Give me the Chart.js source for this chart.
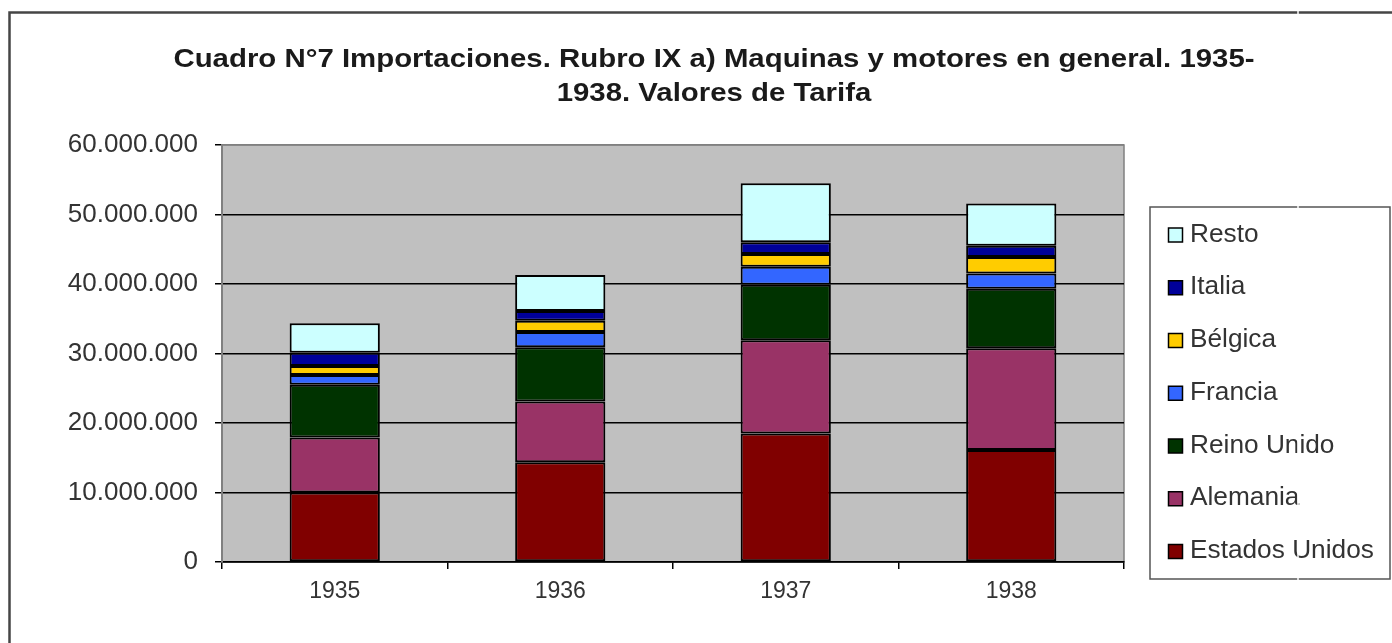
<!DOCTYPE html>
<html>
<head>
<meta charset="utf-8">
<script src="https://cdn.jsdelivr.net/npm/chart.js@4/dist/chart.umd.min.js"></script>
<style>
  html, body { margin: 0; padding: 0; background: #fff; }
  #wrap { width: 1392px; height: 643px; }
</style>
</head>
<body>
<div id="wrap"><canvas id="chart" width="1392" height="643"></canvas></div>
<script>
const years = ['1935', '1936', '1937', '1938'];
const estadosUnidos = [10000000, 14350000, 18500000, 16100000];
const alemania     = [7900000, 8750000, 13400000, 14650000];
const reinoUnido   = [7600000, 7800000, 8000000, 8550000];
const francia      = [1400000, 2200000, 2600000, 2200000];
const belgica      = [1300000, 1600000, 1800000, 2400000];
const italia       = [1900000, 1400000, 1700000, 1600000];
const resto        = [4250000, 5200000, 8500000, 6100000];
const titleLines = ['Cuadro N°7 Importaciones. Rubro IX a) Maquinas y motores en general. 1935-',
                    '1938. Valores de Tarifa'];

const FONT = '"Liberation Sans", Arial, sans-serif';

function fmt(v) {
  return String(Math.round(v)).replace(/\B(?=(\d{3})+(?!\d))/g, '.');
}

function ds(label, data, color) {
  return {
    label: label,
    data: data,
    backgroundColor: color,
    borderColor: '#000',
    borderWidth: 2,
    borderSkipped: false,
    barPercentage: 0.4,
    categoryPercentage: 1
  };
}

const data = {
  labels: years,
  datasets: [
    ds('Estados Unidos', estadosUnidos, '#800000'),
    ds('Alemania', alemania, '#993366'),
    ds('Reino Unido', reinoUnido, '#003300'),
    ds('Francia', francia, '#3366FF'),
    ds('Bélgica', belgica, '#FFCC00'),
    ds('Italia', italia, '#000099'),
    ds('Resto', resto, '#CCFFFF')
  ]
};

// plot background, outer frame, title and legend box
const decor = {
  id: 'decor',
  beforeDraw(chart) {
    const ctx = chart.ctx;
    const a = chart.chartArea;
    ctx.save();
    ctx.fillStyle = '#fff';
    ctx.fillRect(0, 0, chart.width, chart.height);
    // outer frame
    ctx.strokeStyle = '#454545';
    ctx.lineWidth = 2.5;
    ctx.beginPath();
    ctx.moveTo(9.5, chart.height + 2);
    ctx.lineTo(9.5, 12.5);
    ctx.lineTo(chart.width + 2, 12.5);
    ctx.stroke();
    // plot area
    ctx.fillStyle = '#c0c0c0';
    ctx.fillRect(a.left, a.top, a.right - a.left, a.bottom - a.top);
    ctx.strokeStyle = '#808080';
    ctx.lineWidth = 1.5;
    ctx.strokeRect(a.left, a.top, a.right - a.left, a.bottom - a.top);
    // title (the original is slightly stretched sideways)
    ctx.fillStyle = '#1a1a1a';
    ctx.font = 'bold 26px ' + FONT;
    ctx.textAlign = 'center';
    ctx.textBaseline = 'alphabetic';
    const sx = 1.13;
    ctx.scale(sx, 1);
    ctx.fillText(titleLines[0], 714 / sx, 66.5);
    ctx.fillText(titleLines[1], 714 / sx, 100.5);
    ctx.restore();
  },
  afterDraw(chart) {
    const ctx = chart.ctx;
    ctx.save();
    // legend box
    ctx.fillStyle = '#fff';
    ctx.fillRect(1150, 207, 240, 372);
    ctx.strokeStyle = '#555';
    ctx.lineWidth = 1.5;
    ctx.strokeRect(1150, 207, 240, 372);
    ctx.textAlign = 'left';
    ctx.textBaseline = 'alphabetic';
    const sets = chart.data.datasets.slice().reverse();
    sets.forEach(function(d, i) {
      const y = 241.5 + i * 52.75;
      ctx.fillStyle = d.backgroundColor;
      ctx.fillRect(1168.5, y - 13.5, 14, 14);
      ctx.strokeStyle = '#000';
      ctx.lineWidth = 1.5;
      ctx.strokeRect(1168.5, y - 13.5, 14, 14);
      ctx.save();
      ctx.font = '25px ' + FONT;
      ctx.fillStyle = '#333';
      ctx.scale(1.05, 1);
      ctx.fillText(d.label, 1190 / 1.05, y);
      ctx.restore();
    });
    // seam in the original scan
    ctx.strokeStyle = '#fff';
    ctx.lineWidth = 1.5;
    ctx.beginPath();
    ctx.moveTo(1298, 0);
    ctx.lineTo(1298, chart.height);
    ctx.stroke();
    ctx.restore();
  }
};

const config = {
  type: 'bar',
  data: data,
  plugins: [decor],
  options: {
    responsive: false,
    animation: false,
    layout: { padding: { top: 145, right: 268, left: 0, bottom: 0 } },
    plugins: {
      legend: { display: false },
      title: { display: false },
      tooltip: { enabled: false }
    },
    scales: {
      x: {
        stacked: true,
        afterFit: function(scale) { scale.height = 81; },
        grid: {
          offset: true,
          drawOnChartArea: false,
          drawTicks: true,
          tickLength: 7,
          color: '#000',
          lineWidth: 1.5
        },
        border: { color: '#000', width: 1.5 },
        ticks: {
          padding: 9,
          color: '#333',
          font: { family: FONT, size: 23 }
        }
      },
      y: {
        stacked: true,
        min: 0,
        max: 60000000,
        afterFit: function(scale) { scale.width = 222; },
        grid: {
          color: function(c) { return c.tick && c.tick.value === 60000000 ? '#808080' : '#000'; },
          lineWidth: 1.5,
          tickLength: 7,
          tickColor: '#000'
        },
        border: { color: '#808080', width: 2 },
        ticks: {
          stepSize: 10000000,
          padding: 17,
          color: '#333',
          font: { family: FONT, size: 26 },
          callback: function(v) { return fmt(v); }
        }
      }
    }
  }
};

const myChart = new Chart(document.getElementById('chart'), config);
</script>
</body>
</html>
